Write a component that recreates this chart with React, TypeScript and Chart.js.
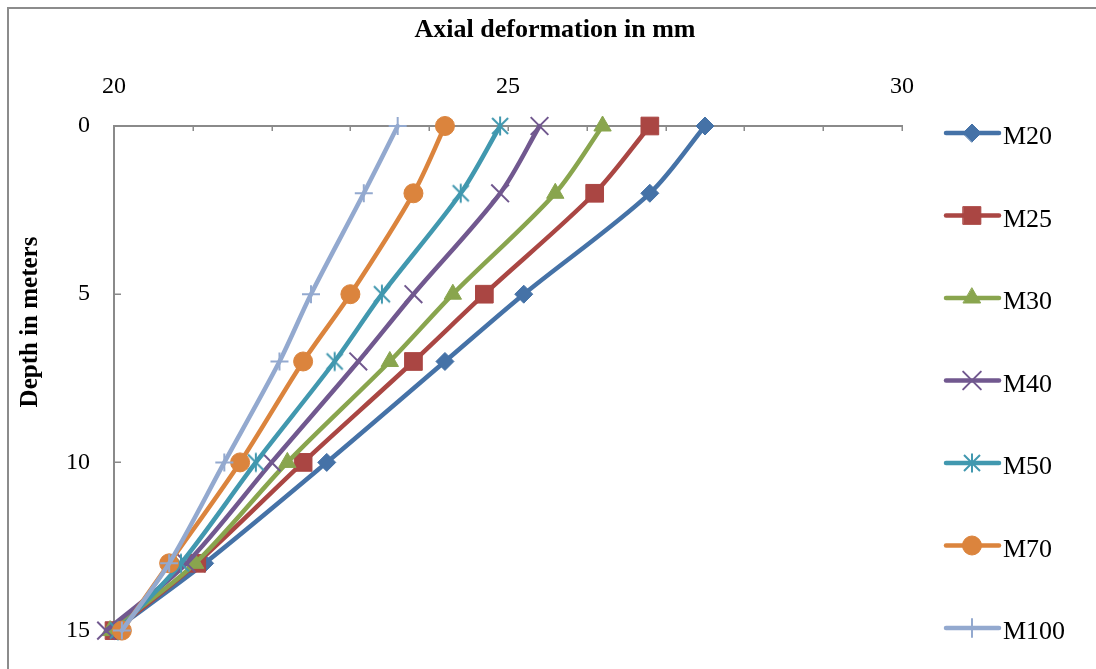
import React, { useEffect, useRef } from 'react';
import { Chart, registerables } from 'chart.js';
import { drawPoint } from 'chart.js/helpers';

Chart.register(...registerables);

// ---- data ----
const depths = [0, 2, 5, 7, 10, 13, 15];
const seriesNames = ['M20', 'M25', 'M30', 'M40', 'M50', 'M70', 'M100'];
const m20 = [27.5, 26.8, 25.2, 24.2, 22.7, 21.15, 20.0];
const m25 = [26.8, 26.1, 24.7, 23.8, 22.4, 21.05, 20.0];
const m30 = [26.2, 25.6, 24.3, 23.5, 22.2, 21.03, 19.95];
const m40 = [25.4, 24.9, 23.8, 23.1, 22.0, 20.92, 19.9];
const m50 = [24.9, 24.4, 23.4, 22.8, 21.8, 20.85, 20.05];
const m70 = [24.2, 23.8, 23.0, 22.4, 21.6, 20.7, 20.1];
const m100 = [23.6, 23.17, 22.5, 22.1, 21.4, 20.7, 20.1];
const seriesValues = [m20, m25, m30, m40, m50, m70, m100];
const seriesColors = ['#4572A7', '#AA4643', '#89A54E', '#71588F', '#4198AF', '#DB843D', '#93A9CF'];
const xTitle = 'Axial deformation in mm';
const yTitle = 'Depth in meters';
const xMin = 20, xMax = 30, xStep = 5, xMinorStep = 1;
const yMin = 0, yMax = 15, yStep = 5;

const FONT = '"Liberation Serif", "Times New Roman", serif';

function makeAsterisk(color: string) {
  const c = document.createElement('canvas');
  c.width = 22; c.height = 22;
  const g = c.getContext('2d')!;
  g.strokeStyle = color;
  g.lineWidth = 2;
  g.lineCap = 'butt';
  g.beginPath();
  g.moveTo(11 - 8, 11 - 8); g.lineTo(11 + 8, 11 + 8);
  g.moveTo(11 + 8, 11 - 8); g.lineTo(11 - 8, 11 + 8);
  g.moveTo(11, 11 - 9.5); g.lineTo(11, 11 + 9.5);
  g.stroke();
  return c;
}

const decorPlugin = {
  id: 'decor',
  beforeDraw(chart: any) {
    const ctx = chart.ctx;
    ctx.save();
    ctx.fillStyle = '#ffffff';
    ctx.fillRect(0, 0, chart.width, chart.height);
    ctx.fillStyle = '#8c8c8c';
    ctx.fillRect(7, 7, chart.width - 7, 2);
    ctx.fillRect(7, 7, 2, chart.height - 7);
    ctx.restore();
  },
  beforeDatasetsDraw(chart: any) {
    const ctx = chart.ctx;
    const xs = chart.scales.x;
    const ys = chart.scales.y;
    const area = chart.chartArea;
    ctx.save();
    ctx.strokeStyle = '#8a8a8a';
    ctx.lineWidth = 1.5;
    ctx.beginPath();
    for (let v = xs.min; v <= xs.max + 1e-9; v += xMinorStep) {
      const px = Math.round(xs.getPixelForValue(v)) + 0.25;
      ctx.moveTo(px, area.top);
      ctx.lineTo(px, area.top + 5);
    }
    ys.ticks.forEach((t: any) => {
      if (t.value === ys.min || t.value === ys.max) return;
      const py = Math.round(ys.getPixelForValue(t.value)) + 0.25;
      ctx.moveTo(area.left, py);
      ctx.lineTo(area.left + 7, py);
    });
    ctx.stroke();
    ctx.restore();
  },
  afterDraw(chart: any) {
    const ctx = chart.ctx;
    ctx.save();
    ctx.fillStyle = '#000000';
    ctx.font = `bold 26px ${FONT}`;
    ctx.textAlign = 'center';
    ctx.textBaseline = 'alphabetic';
    ctx.fillText(xTitle, 555, 37);
    ctx.save();
    ctx.translate(37, 322);
    ctx.rotate(-Math.PI / 2);
    ctx.font = `bold 25px ${FONT}`;
    ctx.fillText(yTitle, 0, 0);
    ctx.restore();

    // legend
    chart.data.datasets.forEach((ds: any, i: number) => {
      const y = 133 + i * 82.5;
      ctx.save();
      ctx.strokeStyle = ds.borderColor;
      ctx.lineWidth = ds.borderWidth;
      ctx.lineCap = 'round';
      ctx.beginPath();
      ctx.moveTo(946, y);
      ctx.lineTo(999, y);
      ctx.stroke();
      ctx.fillStyle = ds.borderColor;
      ctx.strokeStyle = ds.borderColor;
      ctx.lineWidth = ds.pointBorderWidth;
      drawPoint(ctx, {
        pointStyle: ds.pointStyle,
        radius: ds.pointRadius,
        borderWidth: ds.pointBorderWidth,
        rotation: 0,
      } as any, 972, y);
      ctx.restore();
      ctx.fillStyle = '#000000';
      ctx.font = `26px ${FONT}`;
      ctx.textAlign = 'left';
      ctx.textBaseline = 'alphabetic';
      ctx.fillText(ds.label, 1003, y + 11);
    });
    ctx.restore();
  },
};

export default function App() {
  const ref = useRef<HTMLCanvasElement | null>(null);
  useEffect(() => {
    const canvas = ref.current;
    if (!canvas) return;
    const styles: any[] = ['rectRot', 'rect', 'triangle', 'crossRot', makeAsterisk(seriesColors[4]), 'circle', 'cross'];
    const radii = [9, 12.5, 10, 12.5, 10, 9.5, 9];
    const bws = [1, 1, 1, 2, 2, 1, 2];
    const datasets = seriesNames.map((name, i) => ({
      label: name,
      data: depths.map((d, k) => ({ x: seriesValues[i][k], y: d })),
      borderColor: seriesColors[i],
      backgroundColor: seriesColors[i],
      pointBackgroundColor: seriesColors[i],
      pointBorderColor: seriesColors[i],
      borderWidth: 4.5,
      borderCapStyle: 'round',
      borderJoinStyle: 'round',
      pointStyle: styles[i],
      pointRadius: radii[i],
      pointBorderWidth: bws[i],
      tension: 0.3,
      clip: false,
      order: seriesNames.length - i,
      fill: false,
    }));
    const chart = new Chart(canvas, {
      type: 'line',
      data: { datasets } as any,
      options: {
        responsive: false,
        animation: false,
        events: [],
        layout: { padding: { top: 0, left: 0, right: 194, bottom: 31 } },
        plugins: {
          legend: { display: false },
          tooltip: { enabled: false },
          title: { display: false },
        },
        scales: {
          x: {
            type: 'linear',
            position: 'top',
            min: xMin,
            max: xMax,
            ticks: {
              stepSize: xStep,
              padding: 25,
              color: '#000000',
              font: { family: FONT, size: 24 },
              maxRotation: 0,
            },
            grid: { display: false, drawTicks: false },
            border: { display: true, color: '#8a8a8a', width: 2 },
            afterFit: (s: any) => { s.height = 126; },
          },
          y: {
            type: 'linear',
            reverse: true,
            min: yMin,
            max: yMax,
            ticks: {
              stepSize: yStep,
              padding: 24,
              color: '#000000',
              font: { family: FONT, size: 24 },
            },
            grid: { display: false, drawTicks: false },
            border: { display: true, color: '#8a8a8a', width: 2 },
            afterFit: (s: any) => { s.width = 114; },
          },
        },
      } as any,
      plugins: [decorPlugin],
    });
    return () => chart.destroy();
  }, []);
  return (
    <canvas
      ref={ref}
      width={1096}
      height={669}
      style={{ position: 'fixed', left: 0, top: 0, display: 'block' }}
    />
  );
}
